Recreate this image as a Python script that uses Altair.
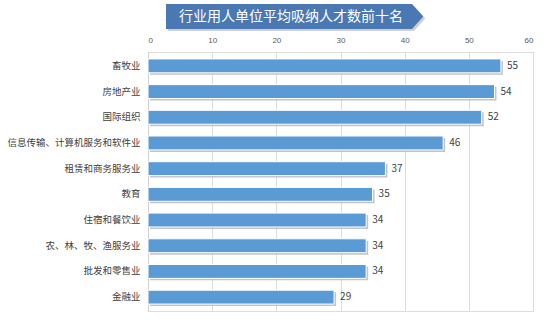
import altair as alt
import pandas as pd

categories = ["畜牧业", "房地产业", "国际组织", "信息传输、计算机服务和软件业", "租赁和商务服务业",
              "教育", "住宿和餐饮业", "农、林、牧、渔服务业", "批发和零售业", "金融业"]
values = [55, 54, 52, 46, 37, 35, 34, 34, 34, 29]
title_text = "行业用人单位平均吸纳人才数前十名"
x_ticks = [0, 10, 20, 30, 40, 50, 60]

df = pd.DataFrame({"industry": categories, "value": values})

FONT = "Noto Sans CJK SC"

y_enc = alt.Y("industry:N", sort=categories,
              scale=alt.Scale(paddingInner=0.46, paddingOuter=0.27),
              axis=alt.Axis(title=None, labelFontSize=9.5, labelColor="#404040",
                            labelFont=FONT, ticks=False, domain=True, domainColor="#d0d0d0",
                            labelPadding=8))
x_enc = alt.X("value:Q", scale=alt.Scale(domain=[0, 60], nice=False),
              axis=alt.Axis(title=None, orient="top", values=x_ticks, labelFontSize=8,
                            labelColor="#595959", ticks=False, domain=False,
                            grid=True, gridColor="#dcdcdc", labelPadding=8))

base = alt.Chart(df)

shadow = base.mark_bar(color="#b5b5b5", xOffset=2, yOffset=2, opacity=0.8).encode(
    x=x_enc, y=y_enc)
bars = base.mark_bar(color="#5b9bd5", stroke="white", strokeWidth=1).encode(
    x="value:Q", y=alt.Y("industry:N", sort=categories))
labels = base.mark_text(align="left", dx=6, fontSize=10, color="#404040", font=FONT).encode(
    x="value:Q", y=alt.Y("industry:N", sort=categories), text="value:Q")

banner_df = pd.DataFrame({"t": [title_text]})
banner_shadow = alt.Chart(banner_df).mark_rect(color="#cfcfcf").encode(
    x=alt.value(20), x2=alt.value(266), y=alt.value(-46), y2=alt.value(-21))
tip_shadow = alt.Chart(banner_df).mark_point(shape="M -1 -1 L 0 -1 L 0.9 0 L 0 1 L -1 1 Z",
                                             filled=True, color="#cfcfcf", opacity=1,
                                             size=625, strokeWidth=0).encode(
    x=alt.value(266), y=alt.value(-33.5))
banner = alt.Chart(banner_df).mark_rect(color="#4a78b2").encode(
    x=alt.value(18), x2=alt.value(264), y=alt.value(-48), y2=alt.value(-23))
tip = alt.Chart(banner_df).mark_point(shape="M -1 -1 L 0 -1 L 0.9 0 L 0 1 L -1 1 Z",
                                      filled=True, color="#4a78b2", opacity=1,
                                      size=625, strokeWidth=0).encode(
    x=alt.value(264), y=alt.value(-35.5))
banner_text = alt.Chart(banner_df).mark_text(color="white", fontSize=14, font=FONT,
                                             baseline="middle").encode(
    x=alt.value(143), y=alt.value(-35.5), text="t:N")

chart = alt.layer(shadow, bars, labels, banner_shadow, tip_shadow, banner, tip,
                  banner_text).properties(
    width=385, height=259,
    autosize=alt.AutoSizeParams(type="none"),
    padding={"left": 148, "top": 52, "right": 17, "bottom": 12},
).configure_view(stroke=None).configure(background="white")

chart.save("out.html", embed_options={"renderer": "svg", "actions": False})
